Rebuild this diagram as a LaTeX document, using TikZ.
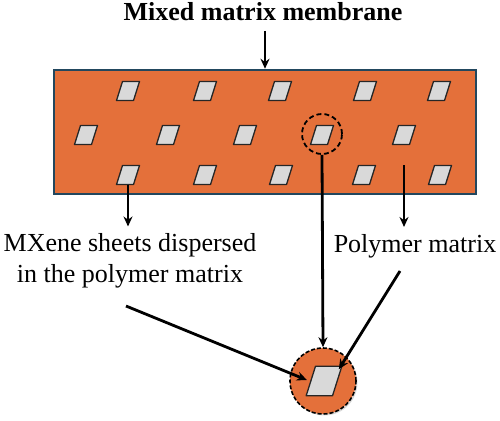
\documentclass[tikz,border=0pt]{standalone}
\usepackage{fontspec}
\setmainfont{Liberation Serif}
\usepackage{xcolor}
\definecolor{matrixorange}{HTML}{E4703A}
\definecolor{frameblue}{HTML}{22475E}
\definecolor{sheetgrey}{HTML}{D9D9D9}
\usepackage{tikz}
\usetikzlibrary{calc}
\usetikzlibrary{arrows.meta,shadows}

\tikzset{
    sheetline/.style={draw=black!85, line width=1.3pt, fill=sheetgrey, line join=round},
    pics/sheet/.style={code={
        \draw[sheetline] (-11.5, 9.5) -- (5.5, 9.5) -- (11.5, -9.5) -- (-5.5, -9.5) -- cycle;
        \coordinate (-s) at (0, 9.5);
        \coordinate (-w) at (-8.5, 0);
        \coordinate (-tr) at (11.5, -9.5);
    }}
}

\begin{document}
\begin{tikzpicture}[x=1pt, y=-1pt,
    arr/.style={line width=2.8pt, -{Stealth[length=10pt, width=9pt]}},
    label/.style={font=\fontsize{26}{31}\selectfont, inner sep=0pt}]

\useasboundingbox (0, 0) rectangle (500, 420);

% MEMBRANE
\node[draw=frameblue, line width=2.5pt, fill=matrixorange, minimum width=422pt,
    minimum height=124pt, inner sep=0pt] (mem) at (265, 132) {};
% sheets, top row
\foreach \x [count=\i] in {128, 205, 280, 365, 439}
    \pic (s1-\i) at (\x, 91) {sheet};
% sheets, middle row
\foreach \x [count=\i] in {86, 168, 245, 322, 404}
    \pic (s2-\i) at (\x, 135) {sheet};
% sheets, bottom row
\foreach \x [count=\i] in {128, 205, 281, 364, 440}
    \pic (s3-\i) at (\x, 175) {sheet};
% marked sheet
\node[draw, circle, dashed, line width=1.8pt, dash pattern=on 5pt off 3pt,
    minimum size=40pt, inner sep=0pt] (zc) at (322, 134) {};

% LABELS
\node[label, font=\fontsize{26}{31}\selectfont\bfseries] (title) at (263, 12) {Mixed matrix membrane};
\node[label, align=center] (mx) at (130, 261) {MXene sheets dispersed\\in the polymer matrix};
\node[label] (pm) at (415, 246) {Polymer matrix};

% ZOOMED SHEET
\node[draw, circle, dashed, line width=1.6pt, dash pattern=on 4pt off 2pt,
    fill=matrixorange, minimum size=66pt, inner sep=0pt,
    drop shadow={shadow xshift=1.5pt, shadow yshift=-1.5pt, opacity=0.3}] (zoom) at (323, 381) {};
\pic[scale=1.55] (zs) at (324, 381) {sheet};

% ARROWS
\coordinate (tA) at (265, 31);
\draw[arr] (tA) -- (tA |- mem.north);
\draw[arr] (s3-1-s) -- ($(s3-1-s |- mx.north) + (0, -7)$);
\coordinate (pA) at (404, 165);
\draw[arr] (pA) -- ($(pA |- pm.north) + (0, -7)$);
\draw[arr] (zc.south) -- (zoom.north);
\coordinate (mA) at (126, 306);
\draw[arr] (mA) -- ($(zs-w) + (-4, -1)$);
\coordinate (qA) at (400, 271);
\draw[arr] (qA) -- ($(zs-tr) + (-3, 3)$);

\end{tikzpicture}
\end{document}
